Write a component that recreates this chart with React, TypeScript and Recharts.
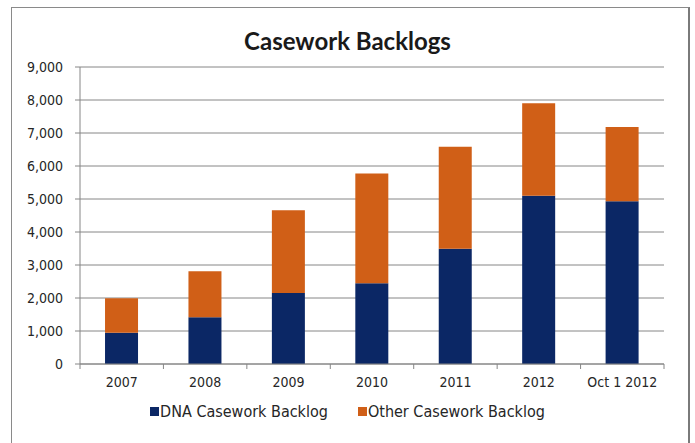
import { Bar, BarChart, CartesianGrid, Legend, XAxis, YAxis } from "recharts";

const categories = ["2007", "2008", "2009", "2010", "2011", "2012", "Oct 1 2012"];
const dnaBacklog = [950, 1420, 2150, 2450, 3490, 5100, 4930];
const otherBacklog = [1040, 1390, 2510, 3320, 3090, 2800, 2250];
const yTicks = [0, 1000, 2000, 3000, 4000, 5000, 6000, 7000, 8000, 9000];

const data = categories.map((year, i) => ({
  year,
  dna: dnaBacklog[i],
  other: otherBacklog[i],
}));

const DNA_COLOR = "#0B2765";
const OTHER_COLOR = "#D05F17";
const AXIS_COLOR = "#868686";
const TEXT_COLOR = "#262626";
const FONT = "'DejaVu Sans Condensed', 'DejaVu Sans', Verdana, sans-serif";

const CHART_W = 695;
const CHART_H = 443;
const MARGIN = { top: 67, right: 31, left: 0, bottom: 49 };
const Y_AXIS_W = 80;
const BAND = (CHART_W - MARGIN.left - MARGIN.right - Y_AXIS_W) / categories.length;

// x-axis tick: label at the category centre, tick marks at category edges
function XTick(props: any) {
  const { x, y, payload, index } = props;
  const half = BAND / 2;
  const last = index === categories.length - 1;
  return (
    <g>
      <line x1={x - half} y1={y - 8} x2={x - half} y2={y - 3} stroke={AXIS_COLOR} />
      {last && <line x1={x + half} y1={y - 8} x2={x + half} y2={y - 3} stroke={AXIS_COLOR} />}
      <text x={x} y={y + 15} textAnchor="middle" fontSize={14} fill={TEXT_COLOR} fontFamily={FONT}>
        {payload.value}
      </text>
    </g>
  );
}

function LegendContent() {
  const items = [
    { label: "DNA Casework Backlog", color: DNA_COLOR },
    { label: "Other Casework Backlog", color: OTHER_COLOR },
  ];
  return (
    <div style={{ display: "flex", justifyContent: "center", gap: 30, fontFamily: FONT, fontSize: 16, color: TEXT_COLOR }}>
      {items.map((it) => (
        <div key={it.label} style={{ display: "flex", alignItems: "center" }}>
          <span style={{ width: 9, height: 9, background: it.color, display: "inline-block", marginRight: 1 }} />
          <span>{it.label}</span>
        </div>
      ))}
    </div>
  );
}

export default function App() {
  return (
    <div style={{ position: "absolute", left: 0, top: 0, width: CHART_W, height: CHART_H, background: "#fff", overflow: "hidden" }}>
      <div
        style={{
          position: "absolute",
          left: 11,
          top: 7,
          width: 676,
          height: 450,
          borderLeft: "1px solid #8a8a8a",
          borderTop: "1px solid #8a8a8a",
          borderRight: "2px solid #7a7a7a",
        }}
      />
      <div
        style={{
          position: "absolute",
          top: 26,
          left: 0,
          width: CHART_W,
          textAlign: "center",
          fontFamily: "Lato, 'Open Sans', sans-serif",
          fontWeight: 700,
          fontSize: 24,
          color: "#1a1a1a",
        }}
      >
        Casework Backlogs
      </div>
      <div style={{ position: "absolute", left: 0, top: 0 }}>
        <BarChart width={CHART_W} height={CHART_H} data={data} margin={MARGIN} barCategoryGap="30%">
          <CartesianGrid vertical={false} stroke={AXIS_COLOR} strokeWidth={1} />
          <XAxis
            dataKey="year"
            height={30}
            axisLine={{ stroke: AXIS_COLOR }}
            tickLine={false}
            tick={<XTick />}
            interval={0}
          />
          <YAxis
            width={Y_AXIS_W}
            domain={[0, 9000]}
            ticks={yTicks}
            interval={0}
            axisLine={{ stroke: AXIS_COLOR }}
            tickLine={{ stroke: AXIS_COLOR }}
            tickSize={5}
            tickMargin={12}
            tick={{ fontSize: 14, fill: TEXT_COLOR, fontFamily: FONT }}
            tickFormatter={(v: number) => v.toLocaleString("en-US")}
          />
          <Legend
            layout="horizontal"
            verticalAlign="middle"
            align="center"
            content={<LegendContent />}
            wrapperStyle={{ top: 402, left: 0, width: CHART_W }}
          />
          <Bar dataKey="dna" name="DNA Casework Backlog" stackId="a" fill={DNA_COLOR} isAnimationActive={false} />
          <Bar dataKey="other" name="Other Casework Backlog" stackId="a" fill={OTHER_COLOR} isAnimationActive={false} />
        </BarChart>
      </div>
    </div>
  );
}
